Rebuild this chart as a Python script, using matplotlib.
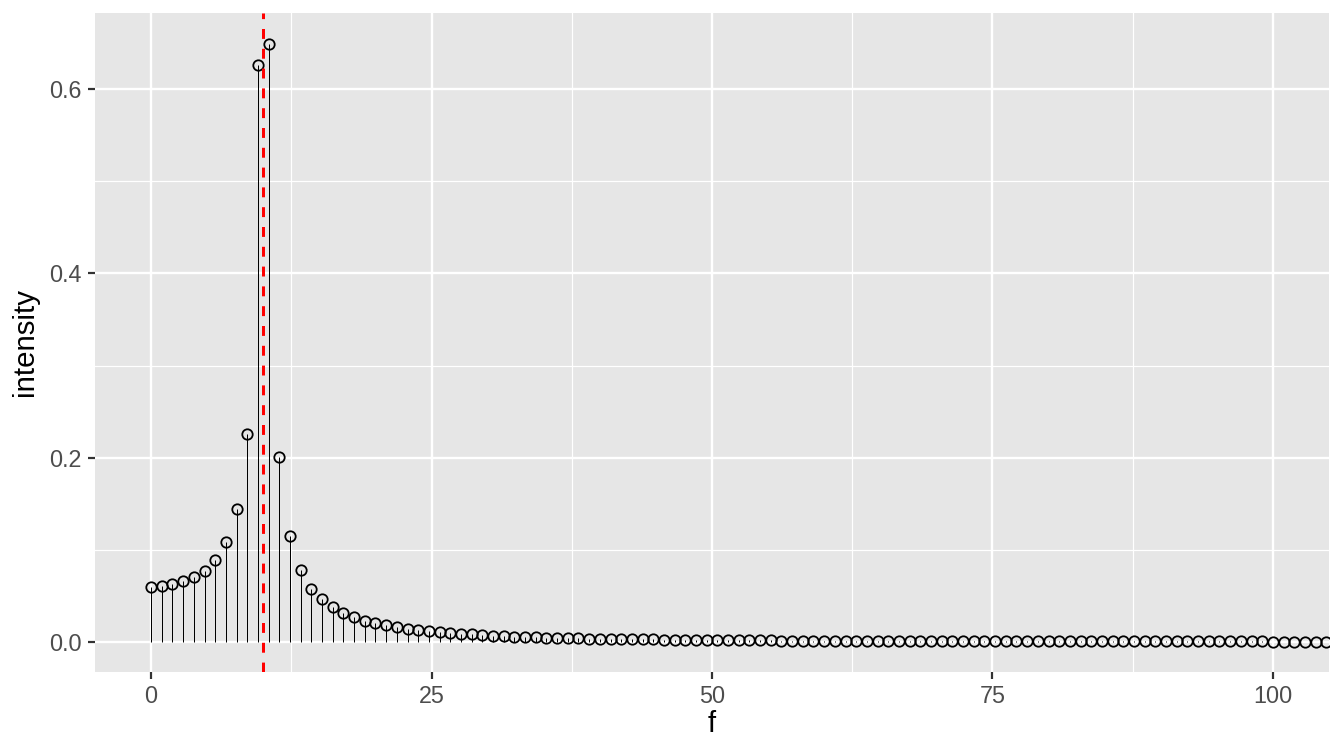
import numpy as np
import matplotlib.pyplot as plt

plt.rcParams['font.family'] = ['Liberation Sans', 'DejaVu Sans']

# spectrum intensity per frequency bin
df = 20 / 21
intensity = [
    0.0600, 0.0605, 0.0630, 0.0660, 0.0705, 0.0775, 0.0895, 0.1085, 0.1445, 0.2255,
    0.6265, 0.6485, 0.2005, 0.1150, 0.0785, 0.0580, 0.0462, 0.0375, 0.0318, 0.0271,
    0.0232, 0.0205, 0.0181, 0.0160, 0.0140, 0.0127, 0.0116, 0.0106, 0.0098, 0.0091,
    0.0084, 0.0076, 0.0070, 0.0065, 0.0060, 0.0056, 0.0052, 0.0049, 0.0046, 0.0043,
    0.0041, 0.0038, 0.0036, 0.0034, 0.0032, 0.0031, 0.0029, 0.0028, 0.0026, 0.0025,
    0.0024, 0.0023, 0.0022, 0.0021, 0.0020, 0.0019, 0.0018, 0.0018, 0.0017, 0.0016,
    0.0016, 0.0015, 0.0015, 0.0014, 0.0014, 0.0013, 0.0013, 0.0012, 0.0012, 0.0012,
    0.0011, 0.0011, 0.0011, 0.0010, 0.0010, 0.0010, 0.0009, 0.0009, 0.0009, 0.0009,
    0.0008, 0.0008, 0.0008, 0.0008, 0.0008, 0.0007, 0.0007, 0.0007, 0.0007, 0.0007,
    0.0007, 0.0006, 0.0006, 0.0006, 0.0006, 0.0006, 0.0006, 0.0006, 0.0006, 0.0006,
    0.0006, 0.0006, 0.0006, 0.0006, 0.0006, 0.0005, 0.0005, 0.0005, 0.0005, 0.0005,
    0.0005,
]
f = np.arange(len(intensity)) * df
f_signal = 10
xticks = [0, 25, 50, 75, 100]
yticks = [0.0, 0.2, 0.4, 0.6]

fig = plt.figure(figsize=(1344 / 144, 756 / 144), dpi=144)
ax = fig.add_axes([95 / 1344, 1 - 672 / 756, (1329 - 95) / 1344, (672 - 13) / 756])
ax.set_facecolor('#E6E6E6')
for s in ax.spines.values():
    s.set_visible(False)

# grid like ggplot theme_grey
for x in [12.5, 37.5, 62.5, 87.5]:
    ax.axvline(x, color='white', lw=0.6, zorder=0)
for y in [0.1, 0.3, 0.5]:
    ax.axhline(y, color='white', lw=0.6, zorder=0)
for x in xticks:
    ax.axvline(x, color='white', lw=1.2, zorder=0)
for y in yticks:
    ax.axhline(y, color='white', lw=1.2, zorder=0)

ax.vlines(f, 0, intensity, color='black', lw=0.5, zorder=2)
ax.plot(f, intensity, 'o', ms=5.2, mfc='none', mec='black', mew=0.9, zorder=3)
ax.axvline(f_signal, color='red', lw=1.5, ls=(0, (3.3, 3.3)), zorder=4)

ax.set_xlim(-5, 105)
ax.set_ylim(-0.0325, 0.6825)
ax.set_xticks(xticks)
ax.set_yticks(yticks)
ax.set_yticklabels(['0.0', '0.2', '0.4', '0.6'])
ax.tick_params(colors='#333333', labelcolor='#4D4D4D', labelsize=11.7,
               length=3.6, width=1.1, pad=3)
ax.set_xlabel('f', fontsize=14.7, labelpad=1)
ax.set_ylabel('intensity', fontsize=14.7, labelpad=5)

fig.savefig('out.png', dpi=144)
